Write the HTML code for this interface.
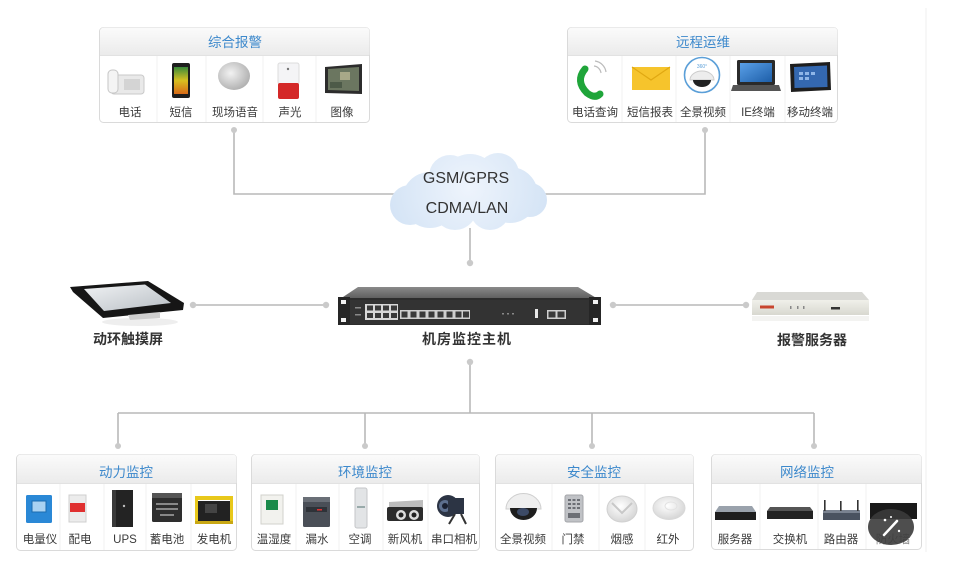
<!DOCTYPE html>
<html><head><meta charset="utf-8"><style>
html,body{margin:0;padding:0;background:#fff;}
svg{display:block;}
.t{font-family:"Liberation Sans","Noto Sans CJK SC",sans-serif;}
.ttl{font-size:13.5px;fill:#3d89cc;text-anchor:middle;}
.lb{font-size:11.5px;fill:#3a3a3a;text-anchor:middle;}
.big{font-size:14px;fill:#333;text-anchor:middle;font-weight:bold;}
.cl{font-family:"Liberation Sans","DejaVu Sans",sans-serif;font-size:16px;fill:#333;text-anchor:middle;}
</style></head><body>
<svg width="955" height="570" viewBox="0 0 955 570" xmlns="http://www.w3.org/2000/svg">
<defs>
<linearGradient id="hdr" x1="0" y1="0" x2="0" y2="1"><stop offset="0" stop-color="#fbfbfb"/><stop offset="1" stop-color="#ebebeb"/></linearGradient>
<radialGradient id="cg" gradientUnits="userSpaceOnUse" cx="468" cy="188" r="85"><stop offset="0" stop-color="#eef4fc"/><stop offset="1" stop-color="#d3e3f5"/></radialGradient>
<radialGradient id="spk" cx="0.4" cy="0.4" r="0.7"><stop offset="0" stop-color="#f2f2f2"/><stop offset="1" stop-color="#a9a9a9"/></radialGradient>
<linearGradient id="scr" x1="0" y1="0" x2="0" y2="1"><stop offset="0" stop-color="#3a8a3a"/><stop offset="0.5" stop-color="#d8c020"/><stop offset="1" stop-color="#d86a18"/></linearGradient>
<linearGradient id="blu" x1="0" y1="0" x2="1" y2="1"><stop offset="0" stop-color="#5aa0e8"/><stop offset="1" stop-color="#1d5ea8"/></linearGradient>
<linearGradient id="ts" x1="0" y1="0" x2="1" y2="1"><stop offset="0" stop-color="#f0f2f4"/><stop offset="1" stop-color="#b8bec4"/></linearGradient>
<linearGradient id="top" x1="0" y1="0" x2="0" y2="1"><stop offset="0" stop-color="#8a8a8a"/><stop offset="1" stop-color="#5c5c5c"/></linearGradient>
<linearGradient id="srv" x1="0" y1="0" x2="0" y2="1"><stop offset="0" stop-color="#f0f0ea"/><stop offset="1" stop-color="#d8d8d0"/></linearGradient>
<radialGradient id="wd" cx="0.45" cy="0.4" r="0.7"><stop offset="0" stop-color="#ffffff"/><stop offset="1" stop-color="#cfcfcf"/></radialGradient>
</defs>

<!-- faint right border -->
<line x1="926" y1="8" x2="926" y2="552" stroke="#efefef" stroke-width="1"/>

<!-- connectors -->
<g stroke="#b9b9b9" stroke-width="1.6" fill="none">
<polyline points="234,130 234,194 395,194"/>
<polyline points="705,130 705,194 543,194"/>
<line x1="470" y1="228" x2="470" y2="263"/>
<line x1="193" y1="305" x2="326" y2="305"/>
<line x1="613" y1="305" x2="746" y2="305"/>
<line x1="470" y1="362" x2="470" y2="413"/>
<line x1="118" y1="413" x2="814" y2="413"/>
<line x1="118" y1="413" x2="118" y2="446"/>
<line x1="365" y1="413" x2="365" y2="446"/>
<line x1="592" y1="413" x2="592" y2="446"/>
<line x1="814" y1="413" x2="814" y2="446"/>
</g>
<g fill="#cacaca">
<circle cx="234" cy="130" r="3"/><circle cx="705" cy="130" r="3"/>
<circle cx="470" cy="263" r="3.2"/>
<circle cx="193" cy="305" r="3.2"/><circle cx="326" cy="305" r="3.2"/>
<circle cx="613" cy="305" r="3.2"/><circle cx="746" cy="305" r="3.2"/>
<circle cx="470" cy="362" r="3.2"/>
<circle cx="118" cy="446" r="3"/><circle cx="365" cy="446" r="3"/><circle cx="592" cy="446" r="3"/><circle cx="814" cy="446" r="3"/>
</g>

<!-- cloud -->
<g fill="url(#cg)">
<circle cx="470" cy="182" r="28"/><circle cx="450" cy="176" r="21"/><circle cx="498" cy="174" r="21"/>
<circle cx="430" cy="200" r="28"/><circle cx="410" cy="205" r="20"/><circle cx="510" cy="195" r="28"/>
<circle cx="530" cy="200" r="17"/><circle cx="455" cy="208" r="22"/><circle cx="490" cy="210" r="20"/>
<rect x="420" y="180" width="100" height="35"/>
</g>
<text class="cl" x="466" y="183">GSM/GPRS</text>
<text class="cl" x="467" y="213">CDMA/LAN</text>

<!-- top boxes -->
<g>
<rect x="99.5" y="27.5" width="270" height="95" rx="4" fill="#fff" stroke="#dadada"/>
<path d="M100,55 V31.5 a4,4 0 0 1 4,-4 H365.5 a4,4 0 0 1 4,4 V55 Z" fill="url(#hdr)"/>
<line x1="100" y1="55.5" x2="369" y2="55.5" stroke="#e2e2e2"/>
<g stroke="#f1f1f1"><line x1="157" y1="56" x2="157" y2="122"/><line x1="206" y1="56" x2="206" y2="122"/><line x1="263" y1="56" x2="263" y2="122"/><line x1="316" y1="56" x2="316" y2="122"/></g>
<text class="t ttl" x="235" y="47">综合报警</text>
<text class="t lb" x="130" y="116">电话</text>
<text class="t lb" x="181" y="116">短信</text>
<text class="t lb" x="235" y="116">现场语音</text>
<text class="t lb" x="290" y="116">声光</text>
<text class="t lb" x="342" y="116">图像</text>

<rect x="567.5" y="27.5" width="270" height="95" rx="4" fill="#fff" stroke="#dadada"/>
<path d="M568,55 V31.5 a4,4 0 0 1 4,-4 H833.5 a4,4 0 0 1 4,4 V55 Z" fill="url(#hdr)"/>
<line x1="568" y1="55.5" x2="837" y2="55.5" stroke="#e2e2e2"/>
<g stroke="#f1f1f1"><line x1="622" y1="56" x2="622" y2="122"/><line x1="676" y1="56" x2="676" y2="122"/><line x1="730" y1="56" x2="730" y2="122"/><line x1="785" y1="56" x2="785" y2="122"/></g>
<text class="t ttl" x="703" y="47">远程运维</text>
<text class="t lb" x="595" y="116">电话查询</text>
<text class="t lb" x="650" y="116">短信报表</text>
<text class="t lb" x="703" y="116">全景视频</text>
<text class="t lb" x="758" y="116">IE终端</text>
<text class="t lb" x="810" y="116">移动终端</text>
</g>

<!-- top-left icons -->
<rect x="111" y="75" width="33" height="19" rx="3" fill="#e9e9e9" stroke="#c9c9c9"/>
<rect x="108" y="70" width="10" height="23" rx="4" fill="#f4f4f4" stroke="#c6c6c6"/>
<rect x="124" y="79" width="16" height="11" fill="#d4d4d4"/>
<rect x="172" y="63" width="18" height="35" rx="2" fill="#1e1e1e"/>
<rect x="174" y="67" width="14" height="27" fill="url(#scr)"/>
<ellipse cx="234" cy="76" rx="16" ry="14" fill="url(#spk)"/>
<rect x="278" y="63" width="21" height="21" rx="2" fill="#f4f4f6" stroke="#dcdcdc"/>
<circle cx="288" cy="69" r="1.2" fill="#777"/>
<rect x="278" y="83" width="21" height="16" rx="2" fill="#d42828"/>
<polygon points="325,67 362,64 362,94 325,93" fill="#2c2c2c"/>
<polygon points="328,69 359,67 359,91 328,90" fill="#6b7660"/>
<rect x="340" y="72" width="10" height="8" fill="#a8a888"/><rect x="330" y="82" width="12" height="6" fill="#4d5a48"/>

<!-- top-right icons -->
<path d="M585,69 q-10,12 2,24 q8,6 13,1" stroke="#1fa53a" stroke-width="7" fill="none" stroke-linecap="round"/>
<g stroke="#bbb" stroke-width="1.2" fill="none"><path d="M594,66 a8,8 0 0 1 7,7"/><path d="M595,61 a13,13 0 0 1 11,11"/></g>
<rect x="632" y="67" width="38" height="23" fill="#f6c42c"/>
<path d="M632,67 L651,80 L670,67" stroke="#e0a812" stroke-width="1.2" fill="none"/>
<circle cx="702" cy="75" r="17.5" fill="#fff" stroke="#5b9fd8" stroke-width="1.6"/>
<path d="M690,80 a12,9 0 0 1 24,0 z" fill="#ededed" stroke="#ccc"/>
<path d="M693,80 h18 a9,7 0 0 1 -18,0 z" fill="#222"/>
<text x="702" y="68" font-size="5" fill="#5b9fd8" text-anchor="middle" font-family="Liberation Sans,sans-serif">360°</text>
<rect x="737" y="60" width="38" height="25" rx="1.5" fill="#2a2a2a"/>
<rect x="740" y="63" width="32" height="19" fill="url(#blu)"/>
<polygon points="733,85 779,85 781,91 731,91" fill="#555"/>
<polygon points="790,64 830,62 831,90 791,92" fill="#1e1e1e"/>
<polygon points="794,67 827,65.5 827.5,87 794.5,88" fill="#3468b0"/>
<g fill="#8fb6e8"><rect x="799" y="72" width="4" height="3"/><rect x="805" y="72" width="4" height="3"/><rect x="811" y="72" width="4" height="3"/><rect x="799" y="77" width="4" height="3"/><rect x="805" y="77" width="4" height="3"/></g>

<!-- touch screen -->
<ellipse cx="140" cy="322" rx="38" ry="4" fill="#eeeeee"/>
<polygon points="70,287 148,281 184,303 183,310 103,318 73,292" fill="#161616"/>
<polygon points="84,289 145,284.5 171,303 104,311" fill="url(#ts)"/>
<polygon points="128,315 160,312 160,318 130,320" fill="#cfcfcf"/>
<text class="t big" x="128" y="344">动环触摸屏</text>

<!-- main host -->
<polygon points="358,287 578,287 598,299 340,299" fill="url(#top)"/>
<rect x="338" y="298" width="263" height="27" fill="#2d2d2d"/>
<rect x="338" y="297" width="12" height="28" fill="#262626"/>
<rect x="589" y="297" width="12" height="28" fill="#262626"/>
<g fill="#f2f2f2"><rect x="341" y="300" width="5" height="4"/><rect x="341" y="318" width="5" height="4"/><rect x="593" y="300" width="5" height="4"/><rect x="593" y="318" width="5" height="4"/></g>
<rect x="350" y="300" width="239" height="24" fill="#333"/>
<rect x="365" y="304" width="33" height="16" fill="#d8d8d8"/>
<g fill="#3a3a3a">
<rect x="367" y="305.5" width="6" height="5"/><rect x="375" y="305.5" width="6" height="5"/><rect x="383" y="305.5" width="6" height="5"/><rect x="391" y="305.5" width="6" height="5"/>
<rect x="367" y="313" width="6" height="5"/><rect x="375" y="313" width="6" height="5"/><rect x="383" y="313" width="6" height="5"/><rect x="391" y="313" width="6" height="5"/>
</g>
<rect x="400" y="310" width="70" height="9" fill="#cfcfcf"/>
<g fill="#3a3a3a">
<rect x="401.5" y="311.5" width="6" height="6"/><rect x="410.5" y="311.5" width="6" height="6"/><rect x="419.5" y="311.5" width="6" height="6"/><rect x="428.5" y="311.5" width="6" height="6"/>
<rect x="437.5" y="311.5" width="6" height="6"/><rect x="446.5" y="311.5" width="6" height="6"/><rect x="455.5" y="311.5" width="6" height="6"/><rect x="463" y="311.5" width="6" height="6"/>
</g>
<g fill="#888"><rect x="502" y="313" width="2" height="1.5"/><rect x="507" y="313" width="2" height="1.5"/><rect x="512" y="313" width="2" height="1.5"/></g>
<rect x="355" y="307" width="6" height="1.5" fill="#888"/><rect x="355" y="314" width="6" height="1.5" fill="#888"/>
<rect x="535" y="309" width="3" height="9" fill="#e8e8e8"/>
<rect x="547" y="310" width="19" height="9" fill="#cfcfcf"/>
<rect x="548.5" y="311.5" width="7" height="6" fill="#3a3a3a"/><rect x="557.5" y="311.5" width="7" height="6" fill="#3a3a3a"/>
<text class="t big" x="467" y="344" style="letter-spacing:1px">机房监控主机</text>

<!-- alarm server -->
<rect x="752" y="316" width="117" height="5" fill="#f3f3f1"/>
<polygon points="757,292 862,292 869,300 752,300" fill="#d9d9d5"/>
<rect x="752" y="300" width="117" height="15" fill="url(#srv)"/>
<rect x="760" y="305.5" width="14" height="3" fill="#c8452e"/>
<g fill="#888"><rect x="790" y="306" width="1.5" height="3"/><rect x="797" y="306" width="1.5" height="3"/><rect x="803" y="306" width="1.5" height="3"/></g>
<rect x="831" y="307" width="9" height="2.5" fill="#333"/>
<text class="t big" x="812" y="345">报警服务器</text>

<!-- bottom boxes -->
<g>
<rect x="16.5" y="454.5" width="220" height="96" rx="4" fill="#fff" stroke="#dadada"/>
<path d="M17,483 V458.5 a4,4 0 0 1 4,-4 H232.5 a4,4 0 0 1 4,4 V483 Z" fill="url(#hdr)"/>
<line x1="17" y1="483.5" x2="236" y2="483.5" stroke="#e2e2e2"/>
<g stroke="#f1f1f1"><line x1="60" y1="484" x2="60" y2="550"/><line x1="104" y1="484" x2="104" y2="550"/><line x1="146" y1="484" x2="146" y2="550"/><line x1="191" y1="484" x2="191" y2="550"/></g>
<text class="t ttl" x="126" y="477">动力监控</text>
<text class="t lb" x="40" y="543">电量仪</text>
<text class="t lb" x="80" y="543">配电</text>
<text class="t lb" x="125" y="543">UPS</text>
<text class="t lb" x="167" y="543">蓄电池</text>
<text class="t lb" x="214" y="543">发电机</text>

<rect x="251.5" y="454.5" width="228" height="96" rx="4" fill="#fff" stroke="#dadada"/>
<path d="M252,483 V458.5 a4,4 0 0 1 4,-4 H475.5 a4,4 0 0 1 4,4 V483 Z" fill="url(#hdr)"/>
<line x1="252" y1="483.5" x2="479" y2="483.5" stroke="#e2e2e2"/>
<g stroke="#f1f1f1"><line x1="296" y1="484" x2="296" y2="550"/><line x1="339" y1="484" x2="339" y2="550"/><line x1="383" y1="484" x2="383" y2="550"/><line x1="428" y1="484" x2="428" y2="550"/></g>
<text class="t ttl" x="365" y="477">环境监控</text>
<text class="t lb" x="274" y="543">温湿度</text>
<text class="t lb" x="317" y="543">漏水</text>
<text class="t lb" x="360" y="543">空调</text>
<text class="t lb" x="405" y="543">新风机</text>
<text class="t lb" x="454" y="543">串口相机</text>

<rect x="495.5" y="454.5" width="198" height="96" rx="4" fill="#fff" stroke="#dadada"/>
<path d="M496,483 V458.5 a4,4 0 0 1 4,-4 H689.5 a4,4 0 0 1 4,4 V483 Z" fill="url(#hdr)"/>
<line x1="496" y1="483.5" x2="693" y2="483.5" stroke="#e2e2e2"/>
<g stroke="#f1f1f1"><line x1="552" y1="484" x2="552" y2="550"/><line x1="599" y1="484" x2="599" y2="550"/><line x1="645" y1="484" x2="645" y2="550"/></g>
<text class="t ttl" x="594" y="477">安全监控</text>
<text class="t lb" x="523" y="543">全景视频</text>
<text class="t lb" x="573" y="543">门禁</text>
<text class="t lb" x="622" y="543">烟感</text>
<text class="t lb" x="668" y="543">红外</text>

<rect x="711.5" y="454.5" width="210" height="95" rx="4" fill="#fff" stroke="#dadada"/>
<path d="M712,483 V458.5 a4,4 0 0 1 4,-4 H917.5 a4,4 0 0 1 4,4 V483 Z" fill="url(#hdr)"/>
<line x1="712" y1="483.5" x2="921" y2="483.5" stroke="#e2e2e2"/>
<g stroke="#f1f1f1"><line x1="760" y1="484" x2="760" y2="549"/><line x1="818" y1="484" x2="818" y2="549"/><line x1="866" y1="484" x2="866" y2="549"/></g>
<text class="t ttl" x="807" y="477">网络监控</text>
<text class="t lb" x="735" y="543">服务器</text>
<text class="t lb" x="790" y="543">交换机</text>
<text class="t lb" x="841" y="543">路由器</text>
<text class="t lb" x="893" y="543" style="fill:#888">防火墙</text>
</g>

<!-- 动力 icons -->
<rect x="26" y="495" width="26" height="28" rx="1.5" fill="#2a88d6"/>
<rect x="32" y="501" width="14" height="11" fill="#a9d2f2" stroke="#1c6cb0"/>
<rect x="69" y="495" width="17" height="27" fill="#ececec" stroke="#cfcfcf"/>
<rect x="70" y="503" width="15" height="9" fill="#e03030"/>
<rect x="112" y="490" width="21" height="37" fill="#232323"/>
<rect x="112" y="490" width="4" height="37" fill="#3a3a3a"/>
<circle cx="124" cy="506" r="1.2" fill="#bbb"/>
<rect x="152" y="493" width="30" height="29" rx="1.5" fill="#2e2e2e"/>
<rect x="152" y="493" width="30" height="5" fill="#555"/>
<g fill="#888"><rect x="156" y="503" width="22" height="2"/><rect x="156" y="508" width="22" height="2"/><rect x="160" y="514" width="14" height="2"/></g>
<rect x="198" y="501" width="32" height="20" fill="#222"/>
<rect x="195" y="496" width="38" height="4" fill="#e8c81a"/>
<rect x="195" y="496" width="3" height="27" fill="#e8c81a"/><rect x="230" y="496" width="3" height="27" fill="#e8c81a"/>
<rect x="195" y="521" width="38" height="3" fill="#c9a814"/>
<rect x="205" y="504" width="12" height="9" fill="#444"/>

<!-- 环境 icons -->
<rect x="261" y="495" width="22" height="29" fill="#f2f2ee" stroke="#d2d2cc"/>
<rect x="266" y="500" width="12" height="10" fill="#1a8a4a"/>
<rect x="303" y="497" width="27" height="30" rx="1.5" fill="#4a4f57"/>
<rect x="303" y="497" width="27" height="5" fill="#6a6f77"/>
<rect x="306" y="507" width="21" height="5" fill="#2e3238"/>
<rect x="317" y="509" width="5" height="1.5" fill="#d33"/>
<rect x="355" y="488" width="12" height="40" rx="2" fill="#e2e4e6" stroke="#c4c6c8"/>
<rect x="357" y="506" width="8" height="2" fill="#9aa"/>
<polygon points="389,502 423,500 423,514 389,516" fill="#bdbdbd"/>
<rect x="387" y="507" width="36" height="14" rx="2" fill="#2c2c2c"/>
<circle cx="401" cy="515" r="5" fill="#ddd"/><circle cx="401" cy="515" r="2.5" fill="#222"/>
<circle cx="414" cy="515" r="5" fill="#ddd"/><circle cx="414" cy="515" r="2.5" fill="#222"/>
<ellipse cx="448" cy="506" rx="11" ry="11" fill="#2c3444"/>
<ellipse cx="445" cy="506" rx="6" ry="6" fill="#5d6f8e"/>
<ellipse cx="445" cy="506" rx="3" ry="3" fill="#1a2030"/>
<rect x="448" y="498" width="16" height="16" fill="#2c3444"/>
<path d="M455,514 l-6,10 M461,514 l5,10" stroke="#333" stroke-width="2"/>

<!-- 安全 icons -->
<path d="M506,509 a17,15 0 0 1 35,0 z" fill="#efefef" stroke="#cfcfcf"/>
<path d="M510,508 h27 a13.5,12 0 0 1 -27,0 z" fill="#1e1e1e"/>
<ellipse cx="523" cy="512" rx="6" ry="4" fill="#3c4a66"/>
<rect x="565" y="495" width="18" height="27" rx="2" fill="#c0c2c6" stroke="#a4a6aa"/>
<g fill="#6c6f75"><rect x="568" y="499" width="3" height="2"/><rect x="572.5" y="499" width="3" height="2"/><rect x="577" y="499" width="3" height="2"/>
<rect x="568" y="503" width="3" height="2"/><rect x="572.5" y="503" width="3" height="2"/><rect x="577" y="503" width="3" height="2"/>
<rect x="568" y="507" width="3" height="2"/><rect x="572.5" y="507" width="3" height="2"/><rect x="577" y="507" width="3" height="2"/>
<rect x="568" y="513" width="12" height="5"/></g>
<ellipse cx="622" cy="509" rx="15" ry="13" fill="url(#wd)" stroke="#d0d0d0"/>
<path d="M612,503 l10,10 l10,-10" stroke="#c8c8c8" stroke-width="2" fill="none"/>
<ellipse cx="669" cy="508" rx="16" ry="11.5" fill="url(#wd)" stroke="#d8d8d8"/>
<ellipse cx="671" cy="506" rx="6" ry="4" fill="none" stroke="#e2e2e2"/>

<!-- 网络 icons -->
<polygon points="719,506 752,506 756,512 715,512" fill="#9aa2ac"/>
<rect x="715" y="512" width="41" height="8" fill="#1e1e1e"/>
<polygon points="770,507 810,507 813,511 767,511" fill="#555"/>
<rect x="767" y="511" width="46" height="8" fill="#222"/>
<rect x="823" y="510" width="37" height="10" fill="#4a5260"/>
<rect x="823" y="510" width="37" height="3" fill="#7a8290"/>
<rect x="824" y="500" width="1.6" height="11" fill="#333"/><rect x="857" y="500" width="1.6" height="11" fill="#333"/>
<rect x="840" y="501" width="1.6" height="10" fill="#333"/>
<rect x="870" y="503" width="47" height="16" fill="#1a1a1a"/>

<!-- overlay badge -->
<ellipse cx="891" cy="527" rx="23" ry="18" fill="#3b3b3b" opacity="0.9"/>
<line x1="884" y1="535" x2="897" y2="521" stroke="#fff" stroke-width="2.5" stroke-linecap="round"/>
<g fill="#fff"><circle cx="885" cy="520" r="1.3"/><circle cx="899" cy="531" r="1.2"/><circle cx="891" cy="517" r="1"/></g>
</svg>
</body></html>
